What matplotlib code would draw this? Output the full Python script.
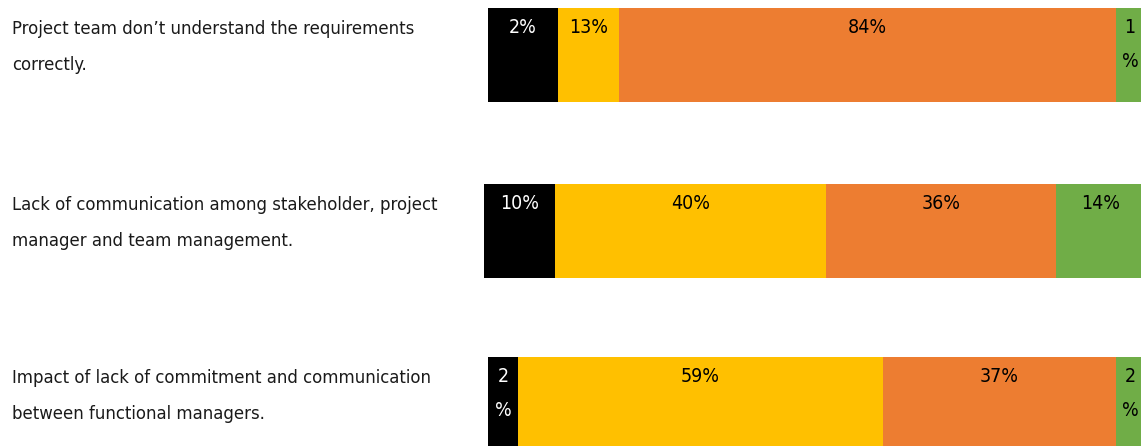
import matplotlib.pyplot as plt
from matplotlib import font_manager

# ============================================================
# Données
# ============================================================
questions = [
    "Project team don\u2019t understand the requirements\ncorrectly.",
    "Lack of communication among stakeholder, project\nmanager and team management.",
    "Impact of lack of commitment and communication\nbetween functional managers.",
]

# libellés affichés sur chaque segment
lab_black = ["2%", "10%", "2\n%"]
lab_yellow = ["13%", "40%", "59%"]
lab_orange = ["84%", "36%", "37%"]
lab_green = ["1\n%", "14%", "2\n%"]

# longueurs des segments telles que dessinées (échelle de l'image)
len_black = [70, 71, 30]
len_yellow = [61, 271, 365]
len_orange = [497, 230, 233]
len_green = [28, 90, 28]
bar_start = [488, 484, 488]

colors = ["#000000", "#FFC000", "#ED7D31", "#70AD47"]
text_colors = ["white", "black", "black", "black"]

# police étroite si disponible
condensed = [f for f in font_manager.fontManager.ttflist
             if f.name == "DejaVu Sans" and "condensed" in str(f.stretch).lower()]
plt.rcParams["font.family"] = ["DejaVu Sans"]
stretch = "condensed" if condensed else "normal"
scale = 1.0 if condensed else 0.8

# ============================================================
# Figure
# ============================================================
fig = plt.figure(figsize=(11.41, 4.46), dpi=100)
ax = fig.add_axes([0, 0, 1, 1])
ax.set_xlim(0, 1141)
ax.set_ylim(446, 0)
ax.axis("off")

y_centers = [55, 231, 404]
height = 94

segments = [len_black, len_yellow, len_orange, len_green]
labels = [lab_black, lab_yellow, lab_orange, lab_green]

for i in range(3):
    left = bar_start[i]
    top = y_centers[i] - height / 2
    for k in range(4):
        w = segments[k][i]
        ax.barh(y_centers[i], w, left=left, height=height,
                color=colors[k], edgecolor="none")
        ax.text(left + w / 2, top + 10, labels[k][i], ha="center", va="top",
                color=text_colors[k], fontsize=14 * scale, linespacing=2.0,
                fontstretch=stretch)
        left += w
    ax.text(12, top + 12, questions[i], ha="left", va="top",
            fontsize=13.2 * scale, color="#1a1a1a", linespacing=2.3,
            fontstretch=stretch)

fig.savefig("out.png", dpi=100)
